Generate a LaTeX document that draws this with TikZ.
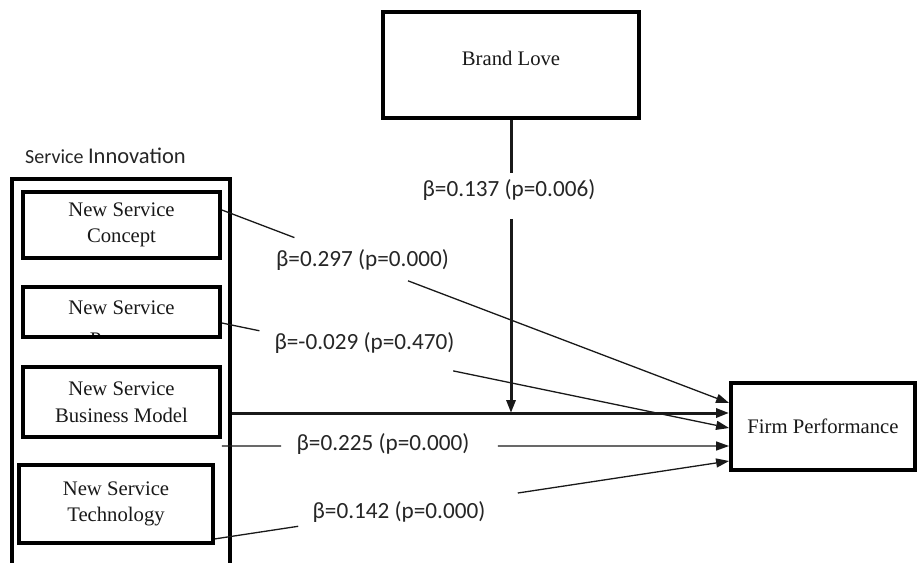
\documentclass[tikz,border=0pt]{standalone}
\usepackage{fontspec}
\setmainfont{Liberation Serif}
\newfontfamily\labelfont{Carlito}
\usetikzlibrary{arrows.meta,calc}

\begin{document}
\begin{tikzpicture}[x=1pt,y=-1pt,
  box/.style={draw=black, line width=3.8pt, fill=white, inner sep=0pt},
  boxtext/.style={font=\fontsize{20.7}{26.5}\selectfont, align=center, text=black!90},
  coef/.style={font=\labelfont\fontsize{23.2}{28}\selectfont, text=black!85, inner sep=0pt},
  link/.style={line width=1.3pt, draw=black!90},
  tip/.style={-{Triangle[length=13pt,width=9pt]}},
  heavy/.style={line width=3pt}]
\useasboundingbox (0,0) rectangle (917,562);
\fill[white] (0,0) rectangle (917,562);
\clip (0,0) rectangle (917,562);

% moderator and outcome
\node[box, minimum width=256pt, minimum height=106pt] (BL) at (511,65) {};
\node[boxtext] (BLt) at ($(BL.center)+(0,-7)$) {Brand Love};
\node[box, minimum width=184pt, minimum height=87pt, boxtext] (FP) at (823,426.5) {Firm Performance};

% service innovation group
\node[anchor=west, inner sep=0pt, font=\labelfont, text=black!85] (SIlab) at (25,156)
  {\fontsize{20}{24}\selectfont Service \fontsize{22.5}{26}\selectfont Innovation};
\node[box, fill=none, minimum width=218pt, minimum height=410pt, anchor=north west] (SI) at (10,177) {};

\node[box, minimum width=197pt, minimum height=66pt, boxtext] (NSC) at (121.5,225) {New Service\\Concept};
\node[box, minimum width=197pt, minimum height=50pt] (NSP) at (121.5,312) {};
\node[boxtext] (NSPa) at (121.5,308) {New Service};
\begin{scope}
  % second line is cut off by the box's inner edge
  \clip ($(NSP.south west)+(4,-4)$) rectangle ($(NSP.north east)+(-4,4)$);
  \node[boxtext, anchor=base] (NSPb) at (121.5,346.5) {Process};
\end{scope}
\node[box, minimum width=197pt, minimum height=70pt, boxtext] (NSB) at (121.5,402) {New Service\\Business Model};
\node[box, minimum width=194pt, minimum height=78pt, boxtext] (NST) at (116,504) {New Service\\Technology};

% path coefficients
\node[coef] (k0) at (509,190) {β=0.137 (p=0.006)};
\node[coef] (k1) at (362.5,260) {β=0.297 (p=0.000)};
\node[coef] (k2) at (364.5,343) {β=-0.029 (p=0.470)};
\node[coef] (k3) at (383,444) {β=0.225 (p=0.000)};
\node[coef] (k4) at (399,512) {β=0.142 (p=0.000)};

% connector end points
\coordinate (s1) at ($(NSC.east)+(0,-15)$);
\coordinate (e1) at ($(FP.west)+(0,-23.5)$);
\coordinate (s2) at ($(NSP.east)+(0,11)$);
\coordinate (e2) at ($(FP.west)+(0,1.5)$);
\coordinate (s3) at ($(NSB.south east)+(0,7)$);
\coordinate (e3) at ($(FP.west)+(0,19.5)$);
\coordinate (s4) at ($(NST.south east)+(0,-6)$);
\coordinate (e4) at ($(FP.west)+(0,34.5)$);
\coordinate (eb) at ($(FP.west)+(0,-13.5)$);

% dimension paths, broken around their coefficients
\draw[link] (s1) -- ($(s1)!0.143!(e1)$);
\draw[link,tip] ($(s1)!0.367!(e1)$) -- (e1);
\draw[link] (s2) -- ($(s2)!0.074!(e2)$);
\draw[link,tip] ($(s2)!0.456!(e2)$) -- (e2);
\draw[link] (s3) -- ($(s3)!0.117!(e3)$);
\draw[link,tip] ($(s3)!0.544!(e3)$) -- (e3);
\draw[link] (s4) -- ($(s4)!0.162!(e4)$);
\draw[link,tip] ($(s4)!0.589!(e4)$) -- (e4);

% overall effect and moderation
\draw[link,heavy,tip] (SI.east |- eb) -- (eb);
\draw[link,heavy] (BL.south) -- ($(BL.south)+(0,53)$);
\draw[link,heavy,tip] ($(BL.south)+(0,99)$) -- (BL.south |- eb);
\end{tikzpicture}
\end{document}
